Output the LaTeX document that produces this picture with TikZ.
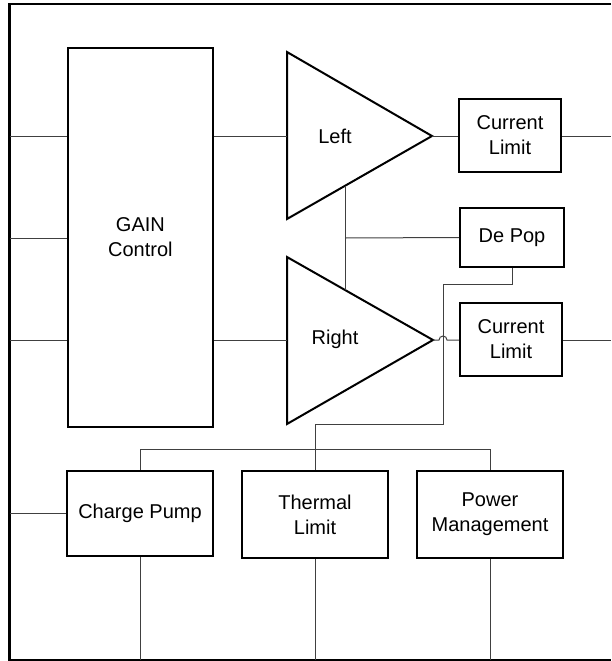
\documentclass[tikz,border=0pt]{standalone}
\usepackage{fontspec}
\setmainfont{Liberation Sans}
\begin{document}
\begin{tikzpicture}[x=0.75pt,y=-0.75pt,
  blk/.style={draw=black,line width=1.5pt,align=center,inner sep=0pt,
    font=\fontsize{15}{18.75}\selectfont},
  lbl/.style={inner sep=0pt,font=\fontsize{15}{18.75}\selectfont},
  wire/.style={draw=black!75,line width=0.75pt},
  tri/.style={draw=black,line width=1.5pt,line join=miter},
  frame/.style={draw=black,line width=2pt}]
\useasboundingbox (0,0) rectangle (611,661);
% frame
\coordinate (fTR) at (611,4);
\coordinate (fTL) at (9.5,4);
\coordinate (fBL) at (9.5,660);
\coordinate (fBR) at (611,660);
\draw[frame] (fTR) -- (fTL) -- (fBL) -- (fBR);
% blocks
\node[blk,minimum width=109pt,minimum height=284pt] (gain) at (140.4,237.5) {GAIN\\Control};
\node[blk,minimum width=76.5pt,minimum height=54.75pt] (cl1) at (510,135.5) {Current\\Limit};
\node[blk,minimum width=78pt,minimum height=44.25pt] (depop) at (512,237.5) {De Pop};
\node[blk,minimum width=76.5pt,minimum height=54.75pt] (cl2) at (511,339.5) {Current\\Limit};
\node[blk,minimum width=109.5pt,minimum height=64pt] (cp) at (140,513.5) {Charge Pump};
\node[blk,minimum width=109.5pt,minimum height=65pt] (tl) at (315,514.5) {Thermal\\Limit};
\node[blk,minimum width=109.5pt,minimum height=65pt] (pm) at (490,514.5) {Power\\Management};
% triangles
\coordinate (LtA) at (287,52);
\coordinate (LtB) at (287,219);
\coordinate (LtO) at (432,136);
\coordinate (RtA) at (287,257);
\coordinate (RtB) at (287,424);
\coordinate (RtO) at (433,340);
\draw[tri] (LtA) -- (LtO) -- (LtB) -- cycle;
\draw[tri] (RtA) -- (RtO) -- (RtB) -- cycle;
\node[lbl] (left) at (335,136) {Left};
\node[lbl] (right) at (335,339) {Right};
% input wires
\coordinate (in1) at (9.5,136);
\coordinate (in2) at (9.5,238);
\coordinate (in3) at (9.5,340);
\coordinate (in4) at (9.5,513.5);
\draw[wire] (in1) -- (in1 -| gain.west);
\draw[wire] (in2) -- (in2 -| gain.west);
\draw[wire] (in3) -- (in3 -| gain.west);
\draw[wire] (in4) -- (in4 -| cp.west);
% gain to amps
\draw[wire] (gain.east |- LtO) -- (LtA |- LtO);
\draw[wire] (gain.east |- RtO) -- (RtA |- RtO);
% amp outputs
\coordinate (out1) at (611,136);
\coordinate (out2) at (611,340);
\draw[wire] (LtO) -- (LtO -| cl1.west);
\draw[wire] (cl1.east |- out1) -- (out1);
\draw[wire] (RtO) -- (439,340) arc (180:360:4) -- (RtO -| cl2.west);
\draw[wire] (cl2.east |- out2) -- (out2);
% de pop links
\coordinate (vA) at (345,186);
\coordinate (vB) at (345,290);
\draw[wire] (vA) -- (vB);
\draw[wire] (345,238) -- (depop.west);
\coordinate (dp1) at (512,284);
\coordinate (dp2) at (443,284);
\coordinate (dp3) at (443,424);
\coordinate (dp4) at (315,424);
\draw[wire] (depop.south) -- (dp1) -- (dp2) -- (dp3) -- (dp4) -- (tl.north);
% bus
\coordinate (bus1) at (140,449);
\coordinate (bus2) at (490,449);
\draw[wire] (cp.north) -- (bus1) -- (bus2) -- (pm.north);
% bottom wires
\draw[wire] (cp.south) -- (cp.south |- fBL);
\draw[wire] (tl.south) -- (tl.south |- fBL);
\draw[wire] (pm.south) -- (pm.south |- fBL);
\end{tikzpicture}
\end{document}
